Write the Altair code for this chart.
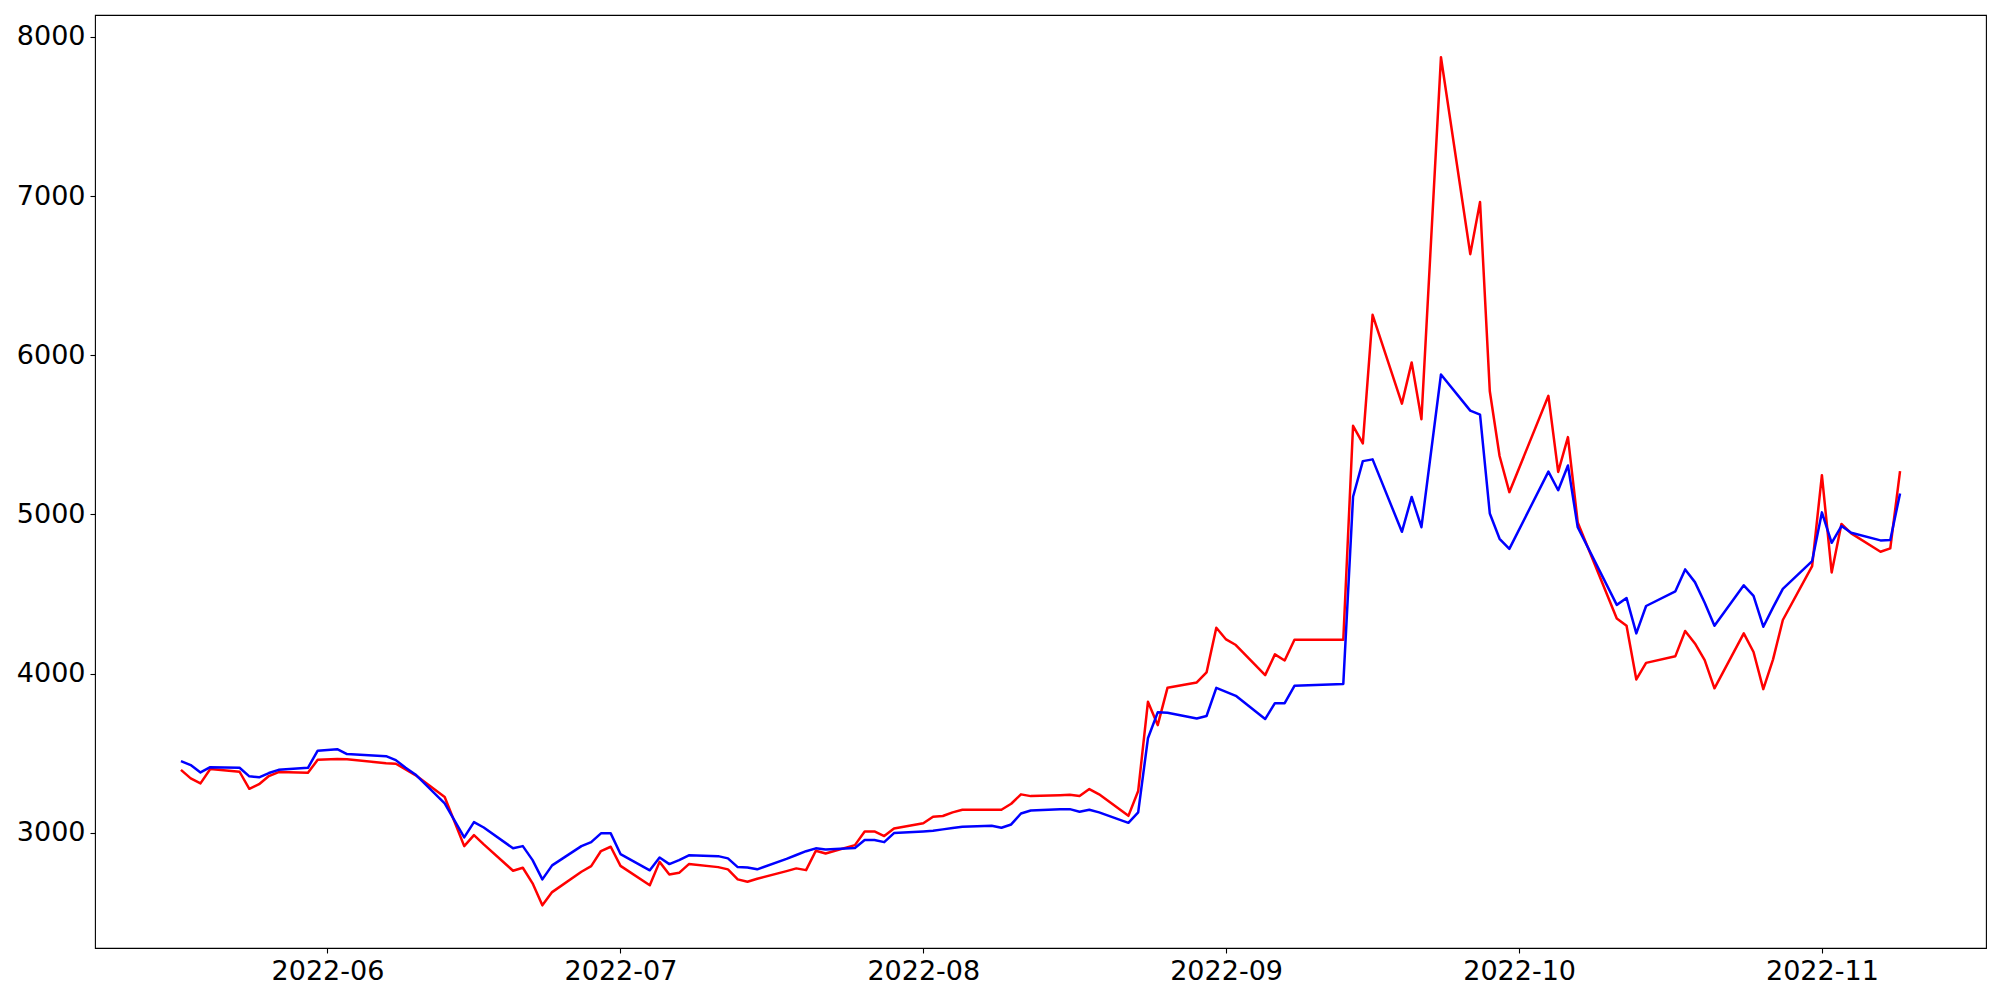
import altair as alt
import pandas as pd

dates = [
    "2022-05-17", "2022-05-18", "2022-05-19", "2022-05-20",
    "2022-05-23", "2022-05-24", "2022-05-25", "2022-05-26", "2022-05-27",
    "2022-05-30", "2022-05-31", "2022-06-02", "2022-06-03",
    "2022-06-07", "2022-06-08", "2022-06-09", "2022-06-10",
    "2022-06-13", "2022-06-15", "2022-06-16", "2022-06-17",
    "2022-06-20", "2022-06-21", "2022-06-22", "2022-06-23", "2022-06-24",
    "2022-06-27", "2022-06-28", "2022-06-29", "2022-06-30", "2022-07-01",
    "2022-07-04", "2022-07-05", "2022-07-06", "2022-07-07", "2022-07-08",
    "2022-07-11", "2022-07-12", "2022-07-13", "2022-07-14", "2022-07-15",
    "2022-07-18", "2022-07-19", "2022-07-20", "2022-07-21", "2022-07-22",
    "2022-07-25", "2022-07-26", "2022-07-27", "2022-07-28", "2022-07-29",
    "2022-08-01", "2022-08-02", "2022-08-03", "2022-08-04", "2022-08-05",
    "2022-08-08", "2022-08-09", "2022-08-10", "2022-08-11", "2022-08-12",
    "2022-08-15", "2022-08-16", "2022-08-17", "2022-08-18", "2022-08-19",
    "2022-08-22", "2022-08-23", "2022-08-24", "2022-08-25", "2022-08-26",
    "2022-08-29", "2022-08-30", "2022-08-31", "2022-09-01", "2022-09-02",
    "2022-09-05", "2022-09-06", "2022-09-07", "2022-09-08",
    "2022-09-13", "2022-09-14", "2022-09-15", "2022-09-16",
    "2022-09-19", "2022-09-20", "2022-09-21", "2022-09-23",
    "2022-09-26", "2022-09-27", "2022-09-28", "2022-09-29", "2022-09-30",
    "2022-10-04", "2022-10-05", "2022-10-06", "2022-10-07",
    "2022-10-11", "2022-10-12", "2022-10-13", "2022-10-14",
    "2022-10-17", "2022-10-18", "2022-10-19", "2022-10-20", "2022-10-21",
    "2022-10-24", "2022-10-25", "2022-10-26", "2022-10-27", "2022-10-28",
    "2022-10-31", "2022-11-01", "2022-11-02", "2022-11-03", "2022-11-04",
    "2022-11-07", "2022-11-08", "2022-11-09",
]

red_values = [
    3396, 3342, 3311, 3401,
    3384, 3277, 3306, 3357, 3382,
    3377, 3459, 3464, 3462,
    3438, 3434, 3399, 3363,
    3225, 2917, 2986, 2928,
    2762, 2781, 2683, 2545, 2628,
    2756, 2791, 2886, 2913, 2793,
    2671, 2818, 2739, 2749, 2804,
    2785, 2771, 2708, 2693, 2712,
    2760, 2777, 2766, 2888, 2871,
    2923, 3009, 3009, 2980, 3027,
    3060, 3101, 3106, 3129, 3145,
    3145, 3145, 3183, 3242, 3231,
    3237, 3239, 3231, 3275, 3242,
    3107, 3263, 3823, 3677, 3911,
    3945, 4008, 4288, 4215, 4180,
    3991, 4121, 4083, 4213,
    4213, 5557, 5446, 6254,
    5696, 5955, 5598, 7872,
    6635, 6962, 5774, 5367, 5140,
    5745, 5267, 5486, 4950,
    4347, 4301, 3964, 4068,
    4110, 4268, 4190, 4085, 3908,
    4253, 4136, 3903, 4090, 4337,
    4676, 5247, 4636, 4940, 4881,
    4766, 4787, 5272,
]

blue_values = [
    3451, 3426, 3380, 3413,
    3409, 3355, 3349, 3376, 3396,
    3409, 3516, 3526, 3495,
    3482, 3457, 3409, 3367,
    3185, 2972, 3068, 3034,
    2903, 2917, 2829, 2708, 2796,
    2917, 2942, 2997, 2997, 2867,
    2765, 2845, 2804, 2829, 2859,
    2854, 2840, 2785, 2783, 2771,
    2837, 2861, 2885, 2903, 2896,
    2905, 2955, 2955, 2942, 2999,
    3009, 3013, 3022, 3030, 3038,
    3045, 3032, 3053, 3122, 3141,
    3148, 3149, 3133, 3145, 3129,
    3063, 3129, 3594, 3757, 3755,
    3719, 3734, 3911, 3886, 3861,
    3715, 3815, 3815, 3924,
    3935, 5111, 5335, 5346,
    4891, 5110, 4920, 5879,
    5652, 5627, 5006, 4847, 4784,
    5269, 5152, 5308, 4920,
    4432, 4475, 4253, 4425,
    4517, 4655, 4575, 4445, 4301,
    4555, 4489, 4295, 4416, 4533,
    4707, 5013, 4822, 4927, 4885,
    4837, 4839, 5132,
]

y_ticks = [3000, 4000, 5000, 6000, 7000, 8000]
x_tick_months = [6, 7, 8, 9, 10, 11]

df = pd.DataFrame({"date": dates, "red": red_values, "blue": blue_values})

x_enc = alt.X(
    "date:T",
    title=None,
    scale=alt.Scale(
        type="utc",
        domain=[
            alt.DateTime(year=2022, month=5, date=8, hours=4, minutes=48, utc=True),
            alt.DateTime(year=2022, month=11, date=17, hours=19, minutes=12, utc=True),
        ],
        nice=False,
    ),
    axis=alt.Axis(
        values=[alt.DateTime(year=2022, month=m, date=1, utc=True) for m in x_tick_months],
        labelExpr="utcFormat(datum.value, '%Y-%m')",
        labelPadding=5,
    ),
)

y_scale = alt.Scale(domain=[2277, 8137], nice=False, zero=False)
y_axis = alt.Axis(values=y_ticks, format="d", labelPadding=5)

red_line = alt.Chart(df).mark_line(
    color="#ff0000", strokeWidth=2.5, strokeJoin="round"
).encode(
    x=x_enc,
    y=alt.Y("red:Q", title=None, scale=y_scale, axis=y_axis),
)

blue_line = alt.Chart(df).mark_line(
    color="#0000ff", strokeWidth=2.5, strokeJoin="round"
).encode(
    x=x_enc,
    y=alt.Y("blue:Q", title=None, scale=y_scale, axis=y_axis),
)

chart = (
    alt.layer(red_line, blue_line)
    .properties(
        width=1891,
        height=933,
        autosize=alt.AutoSizeParams(type="none"),
        padding={"left": 87, "top": 7, "right": 6, "bottom": 40},
        background="white",
    )
    .configure_view(stroke="black", strokeWidth=1.1)
    .configure_axis(
        grid=False,
        domain=False,
        ticks=True,
        tickColor="black",
        tickSize=5,
        tickWidth=1.1,
        labelFont="DejaVu Sans",
        labelFontSize=27,
        labelColor="black",
    )
)

chart.save("out.html", embed_options={"renderer": "svg", "actions": False})
